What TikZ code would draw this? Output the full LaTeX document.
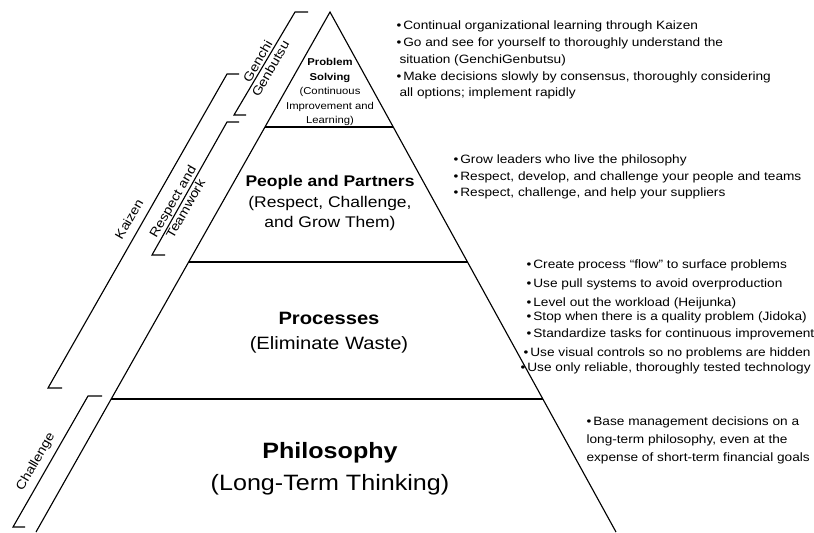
\documentclass[tikz,border=0pt]{standalone}
\usepackage{fontspec}
\setmainfont{Liberation Sans}[FakeStretch=1.13]

\begin{document}
\begin{tikzpicture}[
  line width=0.8pt,
  note/.style={anchor=base west,inner sep=0pt,font=\fontsize{8.6pt}{10pt}\selectfont},
  side/.style={rotate=60,align=center,inner sep=0pt,font=\fontsize{9pt}{10.5pt}\selectfont},
  layer/.style={align=center,inner sep=0pt}
]
\useasboundingbox (0, 0) rectangle (20.35, -13.3);

% pyramid
\draw (0.9, -13.3) -- (8.25, -0.3) -- (15.4, -13.3);
\draw (6.625, -3.175) -- (9.83, -3.175);
\draw (4.72, -6.55) -- (11.69, -6.55);
\draw (2.78, -9.975) -- (13.57, -9.975);

% brackets
\draw (7.7, -0.3) -- (7.375, -0.3) -- (5.85, -2.875) -- (6.15, -2.875);
\draw (5.975, -1.85) -- (5.675, -1.85) -- (1.2, -9.7) -- (1.55, -9.7);
\draw (5.975, -3.05) -- (5.675, -3.05) -- (3.8, -6.375) -- (4.125, -6.375);
\draw (2.55, -9.9) -- (2.2, -9.9) -- (0.325, -13.175) -- (0.625, -13.175);
\node (gg) at (6.6, -1.625) [side] {Genchi\\Genbutsu};
\node (kz) at (3.225, -5.475) [side] {Kaizen};
\node (rt) at (4.475, -5.125) [side] {Respect and\\Teamwork};
\node (ch) at (0.9, -11.55) [side] {Challenge};

% layers
\node (ps) at (8.25, -2.3) [layer,font=\fontsize{7.1pt}{10.3pt}\selectfont] {\textbf{Problem}\\\textbf{Solving}\\(Continuous\\Improvement and\\Learning)};
\node (pp) at (8.25, -5.075) [layer,font=\fontsize{11pt}{14.9pt}\selectfont] {\textbf{People and Partners}\\(Respect, Challenge,\\and Grow Them)};
\node (proc) at (8.225, -8.325) [layer,font=\fontsize{12.7pt}{17.8pt}\selectfont] {\textbf{Processes}\\(Eliminate Waste)};
\node (phil) at (8.25, -11.725) [layer,font=\fontsize{15.8pt}{22.8pt}\selectfont] {\textbf{Philosophy}\\(Long-Term Thinking)};

% notes
\node (n1a) at (9.9, -0.733) [note] {\textbullet\,Continual organizational learning through Kaizen};
\node (n1b) at (9.9, -1.167) [note] {\textbullet\,Go and see for yourself to thoroughly understand the};
\node (n1c) at (9.975, -1.575) [note] {situation (GenchiGenbutsu)};
\node (n1d) at (9.9, -2.0) [note] {\textbullet\,Make decisions slowly by consensus, thoroughly considering};
\node (n1e) at (9.975, -2.4) [note] {all options; implement rapidly};

\node (n2a) at (11.325, -4.075) [note] {\textbullet\,Grow leaders who live the philosophy};
\node (n2b) at (11.325, -4.5) [note] {\textbullet\,Respect, develop, and challenge your people and teams};
\node (n2c) at (11.325, -4.9) [note] {\textbullet\,Respect, challenge, and help your suppliers};

\node (n3a) at (13.15, -6.7) [note] {\textbullet\,Create process “flow” to surface problems};
\node (n3b) at (13.15, -7.175) [note] {\textbullet\,Use pull systems to avoid overproduction};
\node (n3c) at (13.15, -7.65) [note] {\textbullet\,Level out the workload (Heijunka)};
\node (n3d) at (13.15, -8.0) [note] {\textbullet\,Stop when there is a quality problem (Jidoka)};
\node (n3e) at (13.15, -8.425) [note] {\textbullet\,Standardize tasks for continuous improvement};
\node (n3f) at (13.075, -8.9) [note] {\textbullet\,Use visual controls so no problems are hidden};
\node (n3g) at (13.0, -9.275) [note] {\textbullet\,Use only reliable, thoroughly tested technology};

\node (n4a) at (14.65, -10.625) [note] {\textbullet\,Base management decisions on a};
\node (n4b) at (14.65, -11.075) [note] {long-term philosophy, even at the};
\node (n4c) at (14.65, -11.525) [note] {expense of short-term financial goals};
\end{tikzpicture}
\end{document}
